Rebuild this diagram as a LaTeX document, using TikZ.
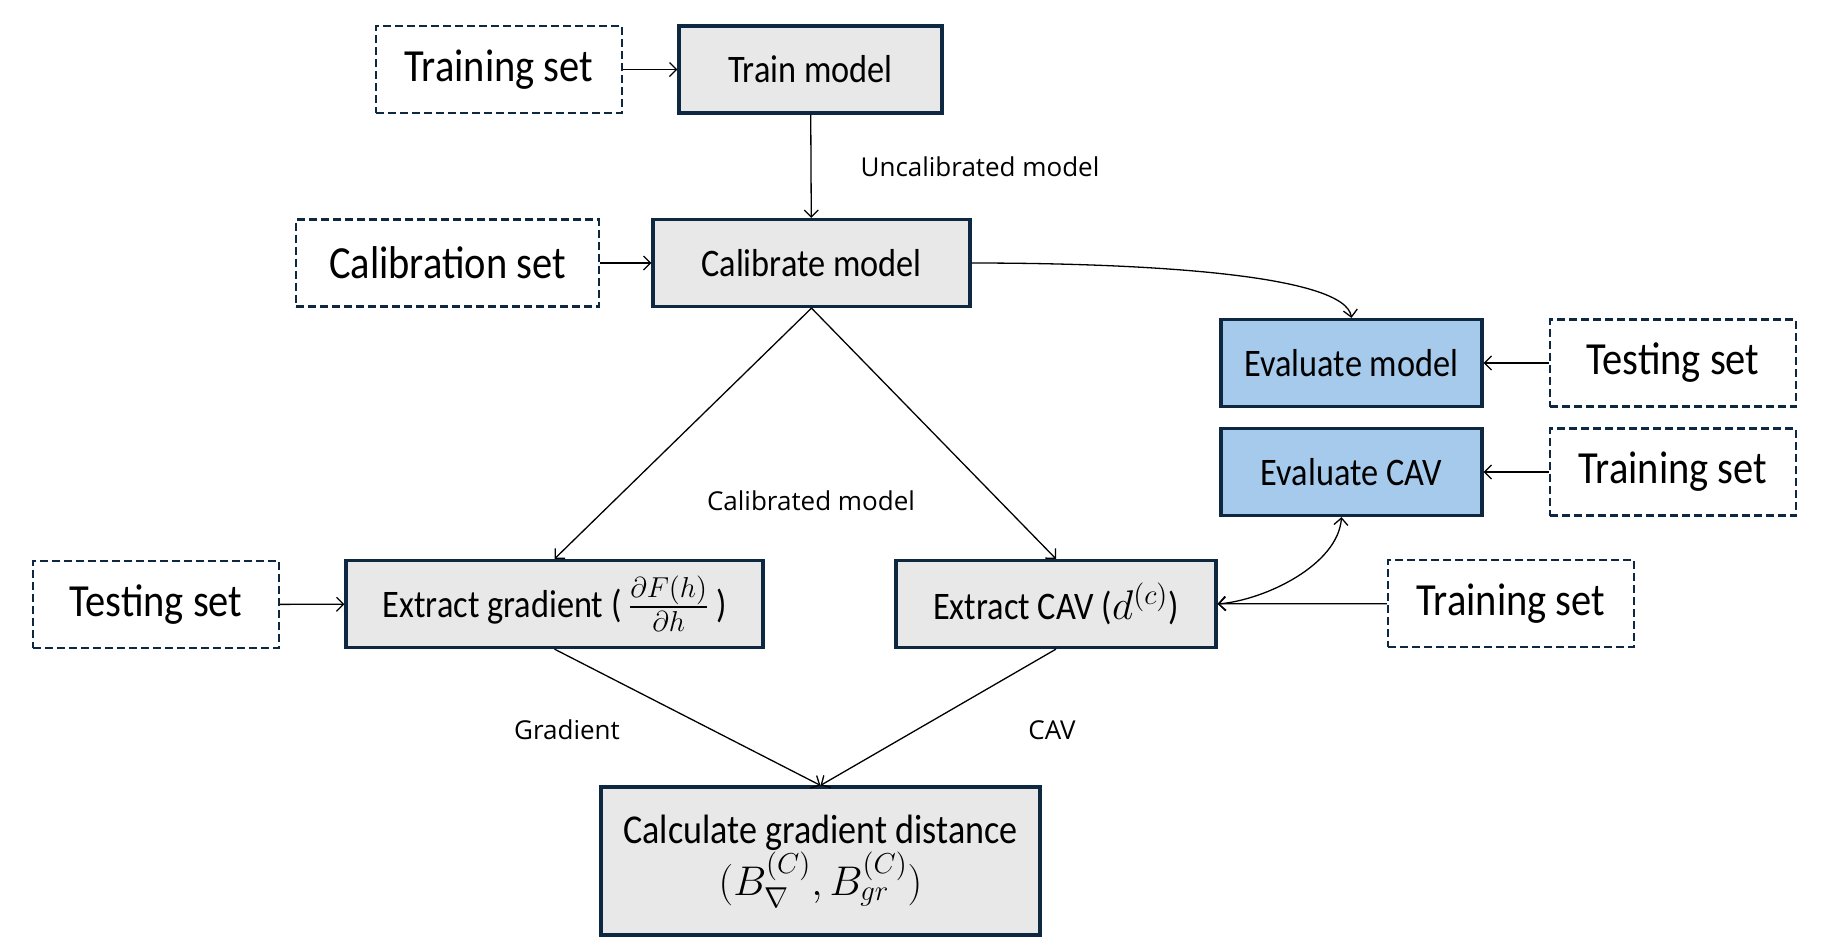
\documentclass[tikz,border=0pt]{standalone}
\usepackage{amsmath, amssymb}
\usepackage{fontspec}
\setmainfont{Carlito}[FakeStretch=0.88]
\newfontfamily\edgefont{Open Sans}
\usepackage{tikz}
\usetikzlibrary{arrows.meta}
\definecolor{boxline}{HTML}{0E2841}
\definecolor{boxgray}{HTML}{E8E8E8}
\definecolor{boxblue}{HTML}{A6CAEC}
\tikzset{
every picture/.style={line width=0.65pt},
dataset/.style={draw=boxline, line width=1.2pt, dash pattern=on 4pt off 2pt, fill=white, minimum width=123pt, minimum height=43.5pt, inner sep=0pt, font=\fontsize{23}{27}\selectfont},
process/.style={draw=boxline, line width=1.6pt, fill=boxgray, minimum height=43.5pt, inner sep=0pt, font=\fontsize{19.5}{23}\selectfont},
evalbox/.style={process, fill=boxblue},
flow/.style={-{Straight Barb[length=3.5pt,width=7pt]}, line width=0.65pt},
twoway/.style={flow, {Straight Barb[length=3.5pt,width=7pt]}-{Straight Barb[length=3.5pt,width=7pt]}},
edgelabel/.style={font=\edgefont\fontsize{13}{16}\selectfont}
}

\begin{document}
\begin{tikzpicture}[x=0.5pt,y=-0.5pt]
      \useasboundingbox (0,0) rectangle (1841,950);
      % boxes
      \node[dataset] (trainset) at (499,69.5) {Training set};
      \node[process, minimum width=131.5pt] (train) at (810.5,69.5) {Train model};
      \node[dataset, minimum width=151.5pt] (calset) at (447.5,263) {Calibration set};
      \node[process, minimum width=158.5pt] (calib) at (811.5,263) {Calibrate model};
      \node[evalbox, minimum width=130.5pt] (evalmodel) at (1351.5,363) {Evaluate model};
      \node[dataset] (testset) at (1673,363) {Testing set};
      \node[evalbox, minimum width=130.5pt] (evalcav) at (1351.5,472) {Evaluate CAV};
      \node[dataset] (cavset) at (1673,472) {Training set};
      \node[dataset] (gradset) at (156,604.5) {Testing set};
      \node[process, minimum width=208.5pt] (grad) at (554.5,604) {Extract gradient (\,$\frac{\partial F(h)}{\partial h}$\,)};
      \node[process, minimum width=160pt] (cav) at (1056,604) {Extract CAV ($d^{(c)}$)};
      \node[dataset] (conceptset) at (1511,603.5) {Training set};
      \node[process, minimum width=219.5pt, minimum height=74pt, align=center, font=\fontsize{20.5}{24}\selectfont] (dist) at (820.5,861) {Calculate gradient distance\\$(B^{(C)}_{\nabla}, B^{(C)}_{gr})$};
      % labels
      \node[edgelabel] (uncal) at (980,167) {Uncalibrated model};
      \node[edgelabel] (cal) at (811,501) {Calibrated model};
      \node[edgelabel] (gradlbl) at (567,730) {Gradient};
      \node[edgelabel] (cavlbl) at (1052,730) {CAV};
      % arrows
      \draw[flow] (trainset) -- (train);
      \draw[flow] (train) -- (calib);
      \draw[flow] (calset) -- (calib);
      \draw[flow] (calib.east) .. controls (1150,263) and (1345,275) .. (evalmodel.north);
      \draw[flow] (testset) -- (evalmodel);
      \draw[flow] (cavset) -- (evalcav);
      \draw[flow] (calib.south) -- (grad.north);
      \draw[flow] (calib.south) -- (cav.north);
      \draw[flow] (gradset) -- (grad);
      \draw[flow] (conceptset) -- (cav);
      \draw[twoway] (cav.east) .. controls (1265,600) and (1338,565) .. ([xshift=-5pt]evalcav.south);
      \draw[flow] (grad.south) -- (dist.north);
      \draw[flow] (cav.south) -- (dist.north);
\end{tikzpicture}
\end{document}
